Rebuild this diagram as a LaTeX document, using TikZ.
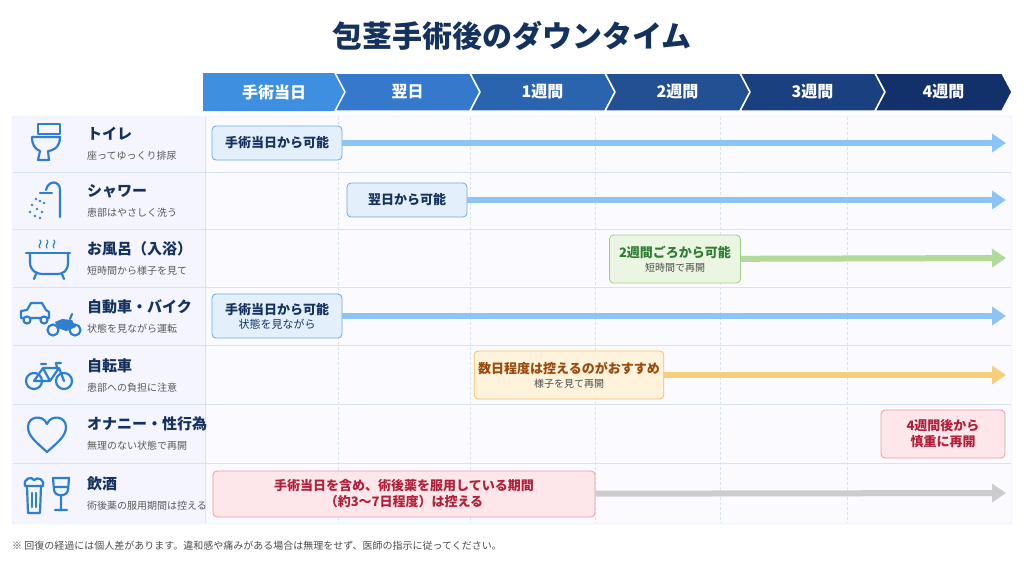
\documentclass[tikz,border=0pt]{standalone}
\usepackage{fontspec}
\setmainfont{Noto Sans CJK JP}
\usetikzlibrary{positioning, calc, arrows.meta, shapes}
\definecolor{navy}{HTML}{15325F}
\definecolor{iconblue}{HTML}{2F7FD0}
\definecolor{arrblue}{HTML}{8CC4F5}
\definecolor{boxblue}{HTML}{E3F0FC}
\definecolor{edgeblue}{HTML}{6AAAE6}
\definecolor{grnfill}{HTML}{EAF6E2}
\definecolor{grnedge}{HTML}{9DD084}
\definecolor{grntext}{HTML}{2E7D32}
\definecolor{orgfill}{HTML}{FFF3DC}
\definecolor{orgedge}{HTML}{F5C15A}
\definecolor{orgtext}{HTML}{9A4A0A}
\definecolor{pnkfill}{HTML}{FDE7EA}
\definecolor{pnkedge}{HTML}{EE9AA6}
\definecolor{pnktext}{HTML}{B0203A}
\definecolor{gridline}{HTML}{D7E3EF}
\tikzset{
x = 1pt, y = -1pt,
title/.style = {font = \fontsize{30}{33}\selectfont\bfseries, text = navy},
head/.style = {font = \fontsize{16}{18}\selectfont\bfseries, text = white},
item/.style = {anchor = west, align = left, inner sep = 0pt, text = navy,
   font = \fontsize{15}{18}\selectfont\bfseries},
sub/.style = {font = \fontsize{10}{12}\selectfont, text = black!65},
stage/.style = {rectangle, rounded corners = 4pt, draw, thick, align = center,
   inner sep = 4pt, font = \fontsize{13}{16}\selectfont\bfseries},
bluebox/.style = {stage, fill = boxblue, draw = edgeblue, text = navy},
greenbox/.style = {stage, fill = grnfill, draw = grnedge, text = grntext},
orangebox/.style = {stage, fill = orgfill, draw = orgedge, text = orgtext},
pinkbox/.style = {stage, fill = pnkfill, draw = pnkedge, text = pnktext},
span/.style = {line width = 6pt, -{Triangle[length = 14pt, width = 18pt]}},
icon/.style = {draw = iconblue, line width = 2.2pt, line cap = round, line join = round},
grid/.style = {gridline, densely dashed, thin}
}
\begin{document}
\begin{tikzpicture}
\useasboundingbox (0,0) rectangle (1024,576);
\fill[white] (0,0) rectangle (1024,576);

\node[title] (ttl) at (512,36) {包茎手術後のダウンタイム};

%% Header chevrons
\foreach \i/\xl/\xr/\c/\t in {0/203/335/3F8FE0/手術当日, 1/335/470/3479CB/翌日,
   2/470/605/2B64AE/1週間, 3/605/740/234F93/2週間, 4/740/875/1B4080/3週間,
   5/875/1002/12306A/4週間} {
   \definecolor{hc}{HTML}{\c}
   \ifnum\i=0
      \fill[hc] (\xl,73) -- (\xr,73) -- (\xr+10,92) -- (\xr,111) -- (\xl,111) -- cycle;
   \else
      \fill[hc, draw = white, line width = 1.5pt] (\xl,73) -- (\xr,73) -- (\xr+10,92)
         -- (\xr,111) -- (\xl,111) -- (\xl+10,92) -- cycle;
   \fi
   \node[head] (h\i) at ({(\xl+\xr)/2+5},92) {\t};
}

%% Table frame and grid
\draw[gridline, fill = blue!2, rounded corners = 3pt] (12,116) rectangle (1012,524);
\fill[blue!4] (13,117) rectangle (205,523);
\foreach \y in {172,229,287,345,404,463}
   \draw[gridline] (13,\y) -- (1011,\y);
\draw[gridline] (205,117) -- (205,523);
\foreach \x in {338,470,595,720,847} \draw[grid] (\x,117) -- (\x,523);

%% Row labels
\foreach \i/\y/\a/\b in {1/143/トイレ/座ってゆっくり排尿, 2/200/シャワー/患部はやさしく洗う,
   3/258/お風呂（入浴）/短時間から様子を見て, 4/316/自動車・バイク/状態を見ながら運転,
   5/375/自転車/患部への負担に注意, 6/433/オナニー・性行為/無理のない状態で再開,
   7/493/飲酒/術後薬の服用期間は控える} {
   \node[item] (lab\i) at (87,\y-9) {\a};
   \node[sub, anchor = west, inner sep = 0pt] (sub\i) at (87,\y+13) {\b};
   \coordinate (end\i) at (1006,\y);
}

%% Icons
% toilet
\draw[icon] (38,124) rectangle (60,134);
\draw[icon] (32,137) -- (60,137) .. controls (60,148) and (52,151) .. (48,151)
   -- (49,160) -- (38,160) -- (40,151) .. controls (35,149) and (32,145) .. (32,137);
% shower
\draw[icon] (60,217) -- (60,190) .. controls (60,180) and (48,180) .. (46,190);
\draw[icon] (40,193) -- (52,193);
\foreach \px/\py in {36/199, 40/201, 44/203, 32/205, 37/209, 42/212, 30/212, 35/216, 40/218}
   \fill[iconblue] (\px,\py) circle (1.4pt);
% bath
\draw[icon] (26,253) -- (70,253);
\draw[icon] (30,253) -- (30,262) .. controls (30,271) and (36,274) .. (44,274) -- (56,274)
   .. controls (64,274) and (68,271) .. (68,262) -- (68,253);
\draw[icon] (36,274) -- (34,279) (62,274) -- (64,279);
\foreach \px in {40,47,54}
   \draw[icon, line width = 1.2pt] (\px,248) .. controls (\px-3,245) and (\px+3,243) .. (\px,240);
% car and bike
\draw[icon] (21,318) -- (21,311) -- (27,310) -- (31,303) -- (42,303) -- (46,310)
   -- (49,312) -- (49,318) -- cycle;
\draw[icon, fill = white] (27,320) circle (3.5pt) (44,320) circle (3.5pt);
\draw[icon] (53,330) circle (5.5pt) (75,330) circle (5.5pt);
\fill[iconblue] (55,322) -- (62,319) -- (72,320) -- (76,327) -- (66,331) -- (58,328) -- cycle;
\draw[icon] (70,319) -- (72,314);
% bicycle
\draw[icon] (34,381) circle (8pt) (64,381) circle (8pt);
\draw[icon] (34,381) -- (43,368) -- (59,368) -- (64,381) (43,368) -- (50,381) -- (59,368)
   (34,381) -- (50,381) (41,364) -- (46,364) (57,368) -- (56,363) -- (61,363);
% heart
\draw[icon] (47,452) .. controls (36,442) and (28,436) .. (28,427)
   .. controls (28,416) and (43,414) .. (47,424)
   .. controls (51,414) and (66,416) .. (66,427)
   .. controls (66,436) and (58,442) .. (47,452) -- cycle;
% beer and wine
\draw[icon] (27,486) -- (28,513) -- (40,513) -- (41,486);
\draw[icon] (25,486) .. controls (23,478) and (32,476) .. (34,480)
   .. controls (38,476) and (45,480) .. (43,486) -- cycle;
\draw[icon] (32,493) -- (32,507) (36,493) -- (36,507);
\draw[icon] (53,478) -- (69,478) -- (68,490) .. controls (67,497) and (55,497) .. (54,490)
   -- cycle (54,487) -- (68,487) (61,496) -- (61,509) (55,510) -- (67,510);

%% Stages and arrows
\node[bluebox, minimum width = 130pt, minimum height = 34pt] (st1) at (277,143) {手術当日から可能};
\node[bluebox, minimum width = 120pt, minimum height = 34pt] (st2) at (407,200) {翌日から可能};
\node[greenbox, minimum width = 131pt, minimum height = 48pt] (st3) at (675,259)
   {2週間ごろから可能\\[-2pt]{\fontsize{10}{12}\selectfont\mdseries\color{black!70}短時間で再開}};
\node[bluebox, minimum width = 130pt, minimum height = 44pt] (st4) at (277,316)
   {手術当日から可能\\[-2pt]{\fontsize{11}{13}\selectfont\mdseries 状態を見ながら}};
\node[orangebox, minimum width = 189pt, minimum height = 48pt] (st5) at (569,375)
   {数日程度は控えるのがおすすめ\\[-2pt]{\fontsize{10}{12}\selectfont\mdseries\color{black!70}様子を見て再開}};
\node[pinkbox, minimum width = 124pt, minimum height = 48pt] (st6) at (943,434)
   {4週間後から\\慎重に再開};
\node[pinkbox, minimum width = 382pt, minimum height = 46pt] (st7) at (404,494)
   {手術当日を含め、術後薬を服用している期間\\（約3〜7日程度）は控える};

\draw[span, arrblue] (st1) -- (end1);
\draw[span, arrblue] (st2) -- (end2);
\draw[span, grnedge!80] (st3) -- (end3);
\draw[span, arrblue] (st4) -- (end4);
\draw[span, orgedge!80] (st5) -- (end5);
\draw[span, black!20] (st7) -- (end7);

%% Note
\node[anchor = west, inner sep = 0pt, font = \fontsize{10}{12}\selectfont, text = black!70]
   (note) at (12,546) {※ 回復の経過には個人差があります。違和感や痛みがある場合は無理をせず、医師の指示に従ってください。};

\end{tikzpicture}
\end{document}
